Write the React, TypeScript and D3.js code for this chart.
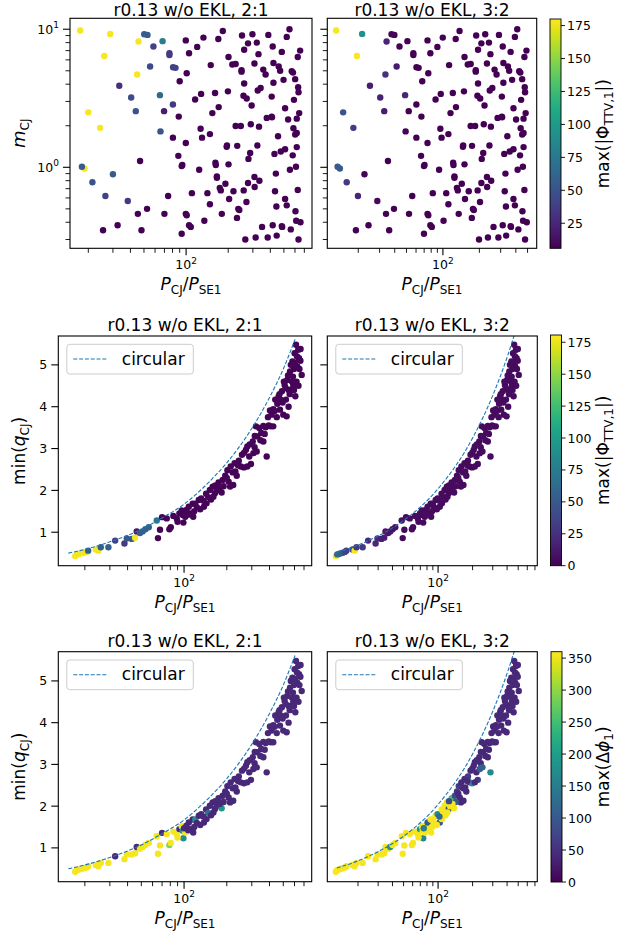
import React from "react";
import * as d3 from "d3";

const FONT = "'DejaVu Sans', sans-serif";

const resonances = ["2:1", "3:2"];
// P_CJ/P_SE1 in the 3:2 runs relative to the 2:1 runs
const periodFactor = [1, 0.75];

// top row: [P_CJ/P_SE1 (2:1), m_CJ, max|Phi_TTV,1| 2:1, max|Phi_TTV,1| 3:2]
const massSystems: number[][] = [
  [17.5, 9.8, 178, 178], [28.7, 9.25, 178, 95], [50.2, 9.2, 55, 8], [53, 9.1, 55, 8],
  [45.7, 8.15, 178, 25], [67.9, 8.2, 80, 6], [99.5, 8.3, 6, 6], [133, 8.7, 6, 6],
  [183, 9.7, 6, 6], [251, 9.0, 6, 6], [298, 9.2, 6, 6], [320, 8.0, 6, 6],
  [387, 9.1, 6, 6], [524, 8.8, 6, 6], [548, 10.0, 6, 6], [58.4, 7.5, 40, 8],
  [76, 6.7, 35, 6], [76, 6.5, 35, 6], [105, 6.7, 6, 6], [120, 7.45, 6, 6],
  [260, 7.1, 6, 6], [277, 7.9, 6, 6], [329, 6.6, 6, 6], [416, 7.5, 6, 6],
  [483, 6.85, 6, 6], [628, 6.3, 6, 6], [653, 7.0, 6, 6], [201, 6.3, 6, 6],
  [170, 8.5, 6, 6], [26, 6.4, 178, 178], [44.7, 4.7, 178, 30], [55.3, 5.37, 45, 20],
  [80.7, 5.3, 40, 6], [84, 5.25, 40, 6], [33.3, 3.9, 30, 20], [40.5, 3.2, 45, 22],
  [65, 3.33, 65, 25], [90, 4.2, 6, 6], [101, 4.8, 6, 6], [128, 3.4, 6, 6],
  [150, 5.5, 6, 6], [161, 3.45, 6, 6], [199, 3.55, 6, 6], [214, 5.55, 6, 6],
  [226, 5.6, 6, 6], [249, 5.05, 6, 6], [249, 4.93, 6, 6], [257, 3.3, 6, 6],
  [260, 4.05, 6, 6], [271, 3.15, 6, 6], [308, 5.65, 6, 6], [325, 3.6, 6, 6],
  [341, 3.75, 6, 6], [356, 5.1, 6, 6], [370, 4.7, 6, 6], [409, 3.25, 6, 6],
  [421, 5.7, 6, 6], [421, 4.1, 6, 6], [459, 5.37, 6, 6], [470, 5.0, 6, 6],
  [497, 4.3, 6, 6], [569, 4.97, 6, 6], [581, 4.85, 6, 6], [602, 4.35, 6, 6],
  [590, 3.08, 6, 6], [632, 3.8, 6, 6], [636, 3.5, 6, 6], [20, 2.5, 178, 50],
  [24.3, 1.93, 178, 35], [43.7, 2.55, 50, 20], [69.6, 2.55, 20, 6], [80.5, 2.85, 35, 6],
  [65.6, 1.82, 50, 8], [88.6, 2.33, 6, 6], [116, 3.1, 6, 6], [127, 1.9, 6, 6],
  [154, 2.47, 6, 6], [171, 2.73, 6, 6], [226, 1.99, 6, 6], [246, 1.99, 6, 6],
  [290, 2.05, 6, 6], [294, 2.8, 6, 6], [332, 1.97, 6, 6], [377, 2.28, 6, 6],
  [409, 2.33, 6, 6], [411, 2.3, 6, 6], [454, 1.68, 6, 6], [536, 2.22, 6, 6],
  [585, 1.92, 6, 6], [618, 2.25, 6, 6], [618, 1.77, 6, 6], [643, 2.47, 6, 6],
  [602, 1.73, 6, 6], [510, 2.68, 6, 6], [99.5, 1.5, 6, 6], [18.8, 0.98, 178, 55],
  [18, 1.01, 55, 55], [21.4, 0.78, 50, 35], [30, 0.89, 55, 8], [46.9, 1.11, 6, 6],
  [80.5, 1.64, 6, 6], [88, 1.21, 6, 6], [94, 1.04, 6, 6], [93, 1.02, 6, 6],
  [124, 0.96, 6, 6], [130, 1.64, 6, 6], [148, 1.74, 6, 6], [162, 1.08, 6, 6],
  [163, 1.04, 6, 6], [166, 0.86, 6, 6], [166, 0.84, 6, 6], [191, 0.76, 6, 6],
  [195, 1.41, 6, 6], [196, 1.44, 6, 6], [201, 1.05, 6, 6], [232, 1.43, 6, 6],
  [279, 1.15, 6, 6], [287, 1.27, 6, 6], [277, 0.77, 6, 6], [308, 0.85, 6, 6],
  [323, 1.44, 6, 6], [334, 0.8, 6, 6], [428, 1.25, 6, 6], [438, 0.9, 6, 6],
  [475, 1.3, 6, 6], [510, 1.35, 6, 6], [552, 0.96, 6, 6], [578, 1.22, 6, 6],
  [610, 1.01, 6, 6], [618, 1.4, 6, 6], [26.5, 0.62, 40, 25], [38.3, 0.57, 35, 10],
  [25.5, 0.35, 6, 6], [32.4, 0.38, 6, 6], [45.2, 0.46, 6, 6], [48, 0.35, 6, 6],
  [52.6, 0.5, 6, 6], [70, 0.46, 6, 6], [74.4, 0.62, 6, 6], [93, 0.33, 6, 6],
  [99.5, 0.46, 6, 6], [101, 0.45, 6, 6], [105, 0.38, 6, 6], [108, 0.37, 6, 6],
  [110, 0.65, 6, 6], [135, 0.41, 6, 6], [142, 0.65, 6, 6], [148, 0.54, 6, 6],
  [174, 0.71, 6, 6], [177, 0.68, 6, 6], [180, 0.46, 6, 6], [203, 0.59, 6, 6],
  [218, 0.67, 6, 6], [231, 0.43, 6, 6], [236, 0.5, 6, 6], [240, 0.49, 6, 6],
  [258, 0.68, 6, 6], [265, 0.3, 6, 6], [270, 0.56, 6, 6], [309, 0.72, 6, 6],
  [314, 0.31, 6, 6], [349, 0.37, 6, 6], [383, 0.31, 6, 6], [416, 0.38, 6, 6],
  [432, 0.67, 6, 6], [442, 0.52, 6, 6], [444, 0.32, 6, 6], [483, 0.375, 6, 6],
  [486, 0.37, 6, 6], [510, 0.59, 6, 6], [524, 0.53, 6, 6], [560, 0.355, 6, 6],
  [605, 0.48, 6, 6], [612, 0.41, 6, 6], [628, 0.685, 6, 6], [636, 0.3, 6, 6],
  [657, 0.4, 6, 6],
];

// rows 2-3: [P_CJ/P_SE1 (2:1), min q_CJ, TTV 2:1, TTV 3:2, dphi 2:1, dphi 3:2]
const periSystems: number[][] = [
  [17.1, 0.43, 178, 178, 355, 355], [17.6, 0.47, 178, 60, 355, 355], [18.2, 0.48, 178, 60, 355, 355],
  [18.9, 0.5, 178, 55, 355, 355], [19.7, 0.51, 178, 50, 355, 355], [20.5, 0.53, 178, 40, 355, 355],
  [21.1, 0.56, 55, 35, 355, 355], [23.9, 0.59, 178, 35, 355, 355], [24.9, 0.56, 178, 178, 355, 355],
  [25.9, 0.64, 55, 30, 355, 355], [29.3, 0.64, 55, 30, 355, 355], [32.7, 0.8, 35, 20, 40, 355],
  [38.0, 0.73, 30, 20, 355, 355], [39.5, 0.85, 50, 20, 355, 355], [42.8, 0.84, 50, 15, 355, 355],
  [45.2, 0.87, 178, 15, 355, 355], [46.4, 1.02, 10, 10, 45, 355], [48.9, 0.98, 50, 10, 355, 355],
  [51.0, 1.02, 55, 10, 355, 180], [53.4, 1.07, 55, 8, 355, 355], [56.4, 1.12, 55, 8, 355, 355],
  [64.2, 1.28, 70, 8, 355, 355], [65.5, 0.86, 2, 5, 355, 355], [67.7, 1.06, 2, 5, 355, 355],
  [70.0, 1.36, 2, 5, 40, 355], [75.5, 1.33, 2, 5, 355, 355], [78.8, 1.07, 2, 5, 290, 355],
  [80.6, 1.12, 2, 5, 355, 355], [84.0, 1.39, 2, 5, 355, 355], [88.8, 1.33, 2, 5, 355, 355],
  [92.7, 1.45, 2, 5, 40, 180], [96.3, 1.52, 2, 5, 355, 355], [98.9, 1.23, 2, 5, 180, 170],
  [97.9, 1.41, 2, 5, 195, 355], [102, 1.37, 2, 5, 355, 355], [104, 1.53, 2, 5, 40, 355],
  [108, 1.61, 2, 5, 40, 100], [111, 1.45, 2, 5, 40, 355], [115, 1.68, 2, 5, 40, 355],
  [120, 1.68, 2, 5, 180, 355], [123, 1.6, 2, 5, 40, 355], [127, 1.77, 2, 5, 40, 355],
  [132, 1.81, 2, 5, 40, 170], [138, 1.61, 2, 5, 40, 100], [143, 1.92, 2, 5, 40, 355],
  [148, 1.84, 2, 5, 130, 355], [152, 2.01, 2, 5, 40, 355], [159, 2.09, 2, 5, 40, 355],
  [165, 1.93, 2, 5, 40, 100], [170, 2.0, 2, 5, 40, 355], [175, 2.19, 2, 5, 40, 260],
  [184, 1.95, 2, 5, 190, 355], [187, 2.25, 2, 5, 40, 80], [195, 2.35, 2, 5, 40, 60],
  [202, 2.48, 2, 5, 40, 60], [206, 2.21, 2, 5, 40, 40], [213, 2.57, 2, 5, 40, 40],
  [220, 2.43, 2, 5, 40, 40], [227, 2.65, 2, 5, 40, 40], [235, 2.35, 2, 5, 40, 40],
  [243, 2.71, 2, 5, 40, 60], [251, 2.57, 2, 5, 40, 40], [256, 2.85, 2, 5, 40, 40],
  [264, 2.55, 2, 5, 40, 170], [273, 2.97, 2, 5, 40, 40], [279, 3.05, 2, 5, 40, 40],
  [288, 2.81, 2, 5, 40, 40], [296, 2.63, 2, 5, 40, 60], [305, 3.17, 2, 5, 40, 40],
  [314, 3.03, 2, 5, 40, 40], [321, 3.53, 2, 5, 40, 40], [328, 3.29, 2, 5, 40, 40],
  [339, 3.49, 2, 5, 40, 40], [350, 3.37, 2, 5, 40, 40], [362, 3.54, 2, 5, 40, 40],
  [376, 3.51, 2, 5, 40, 40], [382, 2.81, 2, 5, 40, 170], [390, 3.75, 2, 5, 40, 40],
  [403, 3.91, 2, 5, 40, 40], [414, 3.81, 2, 5, 40, 40], [425, 3.94, 2, 5, 40, 40],
  [439, 4.17, 2, 5, 40, 40], [454, 4.07, 2, 5, 40, 40], [464, 4.25, 2, 5, 40, 40],
  [474, 3.93, 2, 5, 40, 40], [489, 4.37, 2, 5, 40, 40], [500, 3.81, 2, 5, 40, 40],
  [511, 4.52, 2, 5, 40, 40], [522, 4.17, 2, 5, 40, 40], [533, 4.64, 2, 5, 40, 40],
  [545, 4.0, 2, 5, 40, 40], [558, 4.84, 2, 5, 40, 40], [570, 4.41, 2, 5, 40, 40],
  [580, 5.08, 2, 5, 40, 40], [588, 4.52, 2, 5, 40, 40], [601, 5.28, 2, 5, 40, 40],
  [608, 4.25, 2, 5, 40, 40], [615, 5.48, 2, 5, 40, 40], [628, 4.96, 2, 5, 40, 40],
  [637, 5.36, 2, 5, 40, 40], [646, 5.16, 2, 5, 40, 40], [662, 5.38, 2, 5, 40, 40],
  [674, 4.76, 2, 5, 40, 40], [161, 1.85, 2, 5, 40, 355], [222, 2.13, 2, 5, 40, 40],
  [308, 2.89, 2, 5, 40, 100], [325, 2.93, 2, 5, 40, 110], [425, 3.53, 2, 5, 40, 40],
  [528, 3.77, 2, 5, 40, 40], [585, 4.72, 2, 5, 40, 40], [620, 4.6, 2, 5, 40, 40],
  [545, 4.4, 2, 5, 40, 40], [479, 4.17, 2, 5, 40, 40], [408, 3.53, 2, 5, 40, 40],
  [362, 3.17, 2, 5, 40, 40], [279, 2.57, 2, 5, 40, 40], [211, 2.09, 2, 5, 40, 40],
  [144, 1.69, 2, 5, 40, 355], [116, 1.37, 2, 5, 40, 355],
  [470, 4.3, 2, 5, 40, 40], [495, 4.1, 2, 5, 40, 40], [505, 4.6, 2, 5, 40, 40],
  [520, 4.45, 2, 5, 40, 40], [540, 4.75, 2, 5, 40, 40], [555, 4.3, 2, 5, 40, 40],
  [565, 5.0, 2, 5, 40, 40], [575, 4.6, 2, 5, 40, 40], [595, 4.9, 2, 5, 40, 40],
  [605, 5.05, 2, 5, 40, 40], [625, 5.2, 2, 5, 40, 40], [640, 4.5, 2, 5, 40, 40],
  [650, 4.9, 2, 5, 40, 40], [660, 5.1, 2, 5, 40, 40], [595, 4.4, 2, 5, 40, 40],
  [450, 3.75, 2, 5, 40, 40], [435, 3.9, 2, 5, 40, 40], [395, 3.55, 2, 5, 40, 40],
  [370, 3.35, 2, 5, 40, 40], [345, 3.2, 2, 5, 40, 40], [315, 3.3, 2, 5, 40, 40],
  [290, 3.1, 2, 5, 40, 40], [265, 2.9, 2, 5, 40, 40], [240, 2.6, 2, 5, 40, 40],
  [230, 2.45, 2, 5, 40, 40], [200, 2.3, 2, 5, 40, 40], [190, 2.1, 2, 5, 40, 100],
  [178, 2.05, 2, 5, 40, 355], [166, 2.12, 2, 5, 40, 80], [155, 1.78, 2, 5, 40, 355],
  [137, 1.75, 2, 5, 40, 120], [130, 1.55, 2, 5, 40, 355], [118, 1.5, 2, 5, 40, 355],
  [107, 1.42, 2, 5, 40, 355], [100, 1.47, 2, 5, 40, 150], [90, 1.25, 2, 5, 355, 355],
];

// "circular" reference curves
const circP21 = [15.3, 20, 30, 50, 70, 100, 150, 200, 300, 400, 500, 605];
const circQ21 = [0.5, 0.59, 0.77, 1.07, 1.34, 1.67, 2.2, 2.66, 3.48, 4.22, 4.9, 5.61];
const circP32 = [13.1, 20, 30, 50, 100, 200, 300, 400, 500, 607];
const circQ32 = [0.52, 0.69, 0.91, 1.28, 2.04, 3.25, 4.27, 5.18, 6.02, 6.83];

const ttvTicksTop = [25, 50, 75, 100, 125, 150, 175];
const ttvTicks = [0, 25, 50, 75, 100, 125, 150, 175];
const dphiTicks = [0, 50, 100, 150, 200, 250, 300, 350];
const qTicks = [1, 2, 3, 4, 5];

function logTicks([a, b]: number[]) {
  const major: number[] = [];
  const minor: number[] = [];
  for (let e = Math.floor(Math.log10(a)); e <= Math.ceil(Math.log10(b)); e++) {
    for (let k = 1; k < 10; k++) {
      const v = k * Math.pow(10, e);
      if (v >= a && v <= b) (k === 1 ? major : minor).push(v);
    }
  }
  return { major, minor };
}

function Pow10({ x, y, e, anchor }: any) {
  return (
    <text x={x} y={y} textAnchor={anchor} fontSize={12.5} fontFamily={FONT}>
      10<tspan fontSize={9} dy={-5.5}>{e}</tspan>
    </text>
  );
}

function XLabel({ x, y }: any) {
  return (
    <text x={x} y={y} textAnchor="middle" fontSize={17} fontFamily={FONT}>
      <tspan fontStyle="italic">P</tspan>
      <tspan fontSize={12} dy={4}>CJ</tspan>
      <tspan dy={-4}>/</tspan>
      <tspan fontStyle="italic">P</tspan>
      <tspan fontSize={12} dy={4}>SE1</tspan>
    </text>
  );
}

function Panel(p: any) {
  const { id, x0, x1, y0, y1, xDomain, yDomain, yLog, pts, color, showY, yLabel, curve, title, titleY } = p;
  const x = d3.scaleLog().domain(xDomain).range([x0, x1]);
  const y = yLog
    ? d3.scaleLog().domain(yDomain).range([y1, y0])
    : d3.scaleLinear().domain(yDomain).range([y1, y0]);
  const xt = logTicks(xDomain);
  const yt = yLog ? logTicks(yDomain) : { major: qTicks, minor: [] as number[] };
  const line = curve
    ? d3
        .line<number>()
        .x((_, i) => x(curve.p[i]))
        .y((_, i) => y(curve.q[i]))
        .curve(d3.curveMonotoneX)
    : null;
  return (
    <g>
      <defs>
        <clipPath id={id}>
          <rect x={x0} y={y0} width={x1 - x0} height={y1 - y0} />
        </clipPath>
      </defs>
      <g clipPath={`url(#${id})`}>
        {pts.map((d: number[], i: number) => (
          <circle key={i} cx={x(d[0])} cy={y(d[1])} r={3.2} fill={color(d[2])} />
        ))}
        {line && (
          <path d={line(curve.p) || ""} fill="none" stroke="#1f77b4" strokeWidth={1.1} strokeDasharray="4,1.8" />
        )}
      </g>
      <rect x={x0} y={y0} width={x1 - x0} height={y1 - y0} fill="none" stroke="#000" strokeWidth={1.1} />
      {xt.major.map((v) => (
        <g key={"xM" + v}>
          <line x1={x(v)} x2={x(v)} y1={y1} y2={y1 + 7} stroke="#000" strokeWidth={1.1} />
          <Pow10 x={x(v)} y={y1 + 21} e={Math.round(Math.log10(v))} anchor="middle" />
        </g>
      ))}
      {xt.minor.map((v) => (
        <line key={"xm" + v} x1={x(v)} x2={x(v)} y1={y1} y2={y1 + 4.5} stroke="#000" strokeWidth={0.9} />
      ))}
      {yt.major.map((v) => (
        <g key={"yM" + v}>
          <line x1={x0 - 7} x2={x0} y1={y(v)} y2={y(v)} stroke="#000" strokeWidth={1.1} />
          {showY &&
            (yLog ? (
              <Pow10 x={x0 - 11} y={y(v) + 4.5} e={Math.round(Math.log10(v))} anchor="end" />
            ) : (
              <text x={x0 - 11} y={y(v) + 4.5} textAnchor="end" fontSize={12.5} fontFamily={FONT}>
                {v}
              </text>
            ))}
        </g>
      ))}
      {yt.minor.map((v) => (
        <line key={"ym" + v} x1={x0 - 4.5} x2={x0} y1={y(v)} y2={y(v)} stroke="#000" strokeWidth={0.9} />
      ))}
      <text x={(x0 + x1) / 2} y={titleY} textAnchor="middle" fontSize={17} fontFamily={FONT}>
        {title}
      </text>
      <XLabel x={(x0 + x1) / 2} y={y1 + 42} />
      {showY && (
        <text
          transform={`translate(25,${(y0 + y1) / 2}) rotate(-90)`}
          textAnchor="middle"
          fontSize={17}
          fontFamily={FONT}
        >
          {yLabel === "m" ? (
            <>
              <tspan fontStyle="italic" fontSize={18}>m</tspan>
              <tspan fontSize={12} dy={4}>CJ</tspan>
            </>
          ) : (
            <>
              <tspan>min(</tspan>
              <tspan fontStyle="italic">q</tspan>
              <tspan fontSize={12} dy={4}>CJ</tspan>
              <tspan dy={-4}>)</tspan>
            </>
          )}
        </text>
      )}
      {curve && (
        <g>
          <rect x={x0 + 8.5} y={y0 + 8.3} width={126.5} height={29.7} rx={3} fill="#fff" fillOpacity={0.8} stroke="#cccccc" strokeWidth={1} />
          <line x1={x0 + 15} x2={x0 + 49} y1={y0 + 23} y2={y0 + 23} stroke="#1f77b4" strokeWidth={1.1} strokeDasharray="4,1.8" />
          <text x={x0 + 63.5} y={y0 + 28.5} fontSize={17} fontFamily={FONT}>
            circular
          </text>
        </g>
      )}
    </g>
  );
}

function Colorbar({ id, x0, y0, y1, domain, ticks, label }: any) {
  const s = d3.scaleLinear().domain(domain).range([y1, y0]);
  const stops = d3.range(0, 1.0001, 0.05);
  return (
    <g>
      <defs>
        <linearGradient id={id} x1="0" y1="1" x2="0" y2="0">
          {stops.map((t) => (
            <stop key={t} offset={t} stopColor={d3.interpolateViridis(t)} />
          ))}
        </linearGradient>
      </defs>
      <rect x={x0} y={y0} width={11} height={y1 - y0} fill={`url(#${id})`} stroke="#000" strokeWidth={0.9} />
      {ticks.map((v: number) => (
        <g key={v}>
          <line x1={x0 + 11} x2={x0 + 15} y1={s(v)} y2={s(v)} stroke="#000" strokeWidth={0.9} />
          <text x={x0 + 17} y={s(v) + 4.5} fontSize={12.5} fontFamily={FONT}>
            {v}
          </text>
        </g>
      ))}
      <text transform={`translate(609,${(y0 + y1) / 2}) rotate(-90)`} textAnchor="middle" fontSize={17} fontFamily={FONT}>
        {label === "ttv" ? (
          <>
            <tspan>max(|Φ</tspan>
            <tspan fontSize={12} dy={4}>TTV,1</tspan>
            <tspan dy={-4}>|)</tspan>
          </>
        ) : (
          <>
            <tspan>max(Δ</tspan>
            <tspan fontStyle="italic">ϕ</tspan>
            <tspan fontSize={12} dy={4}>1</tspan>
            <tspan dy={-4}>)</tspan>
          </>
        )}
      </text>
    </g>
  );
}

export default function App() {
  const cTop = d3.scaleSequential(d3.interpolateViridis).domain([6, 180]);
  const cTtv = d3.scaleSequential(d3.interpolateViridis).domain([0, 180.7]);
  const cPhi = d3.scaleSequential(d3.interpolateViridis).domain([0, 360]);

  const massPts = [0, 1].map((c) => massSystems.map((d) => [d[0] * periodFactor[c], d[1], d[2 + c]]));
  const ttvPts = [0, 1].map((c) => periSystems.map((d) => [d[0] * periodFactor[c], d[1], d[2 + c]]));
  const phiPts = [0, 1].map((c) => periSystems.map((d) => [d[0] * periodFactor[c], d[1], d[4 + c]]));
  const curves = [
    { p: circP21, q: circQ21 },
    { p: circP32, q: circQ32 },
  ];

  const colX = [
    [70, 312, 327.3, 536.7],
    [58.3, 311.7, 327.3, 537.3],
  ];
  const xTop = [[14.8, 794], [11.1, 595]];
  const xLow = [[13.0, 793], [10.8, 734]];
  const rows = [
    { y0: 18.3, y1: 248.3, t: 16 },
    { y0: 336, y1: 565.7, t: 331 },
    { y0: 651.7, y1: 881.7, t: 647.3 },
  ];

  return (
    <svg width={634} height={933} style={{ position: "absolute", left: 0, top: 0, background: "#fff" }}>
      {[0, 1].map((c) => (
        <Panel
          key={"a" + c}
          id={"clipA" + c}
          x0={colX[0][c * 2]}
          x1={colX[0][c * 2 + 1]}
          y0={rows[0].y0}
          y1={rows[0].y1}
          titleY={rows[0].t}
          xDomain={xTop[c]}
          yDomain={[0.259, 12.0]}
          yLog
          pts={massPts[c]}
          color={cTop}
          showY={c === 0}
          yLabel="m"
          title={`r0.13 w/o EKL, ${resonances[c]}`}
        />
      ))}
      {[0, 1].map((c) => (
        <Panel
          key={"b" + c}
          id={"clipB" + c}
          x0={colX[1][c * 2]}
          x1={colX[1][c * 2 + 1]}
          y0={rows[1].y0}
          y1={rows[1].y1}
          titleY={rows[1].t}
          xDomain={xLow[c]}
          yDomain={[0.2, 5.69]}
          pts={ttvPts[c]}
          color={cTtv}
          showY={c === 0}
          yLabel="q"
          curve={curves[c]}
          title={`r0.13 w/o EKL, ${resonances[c]}`}
        />
      ))}
      {[0, 1].map((c) => (
        <Panel
          key={"c" + c}
          id={"clipC" + c}
          x0={colX[1][c * 2]}
          x1={colX[1][c * 2 + 1]}
          y0={rows[2].y0}
          y1={rows[2].y1}
          titleY={rows[2].t}
          xDomain={xLow[c]}
          yDomain={[0.19, 5.7]}
          pts={phiPts[c]}
          color={cPhi}
          showY={c === 0}
          yLabel="q"
          curve={curves[c]}
          title={`r0.13 w/o EKL, ${resonances[c]}`}
        />
      ))}
      <Colorbar id="cb0" x0={550} y0={19} y1={248.3} domain={[6, 180]} ticks={ttvTicksTop} label="ttv" />
      <Colorbar id="cb1" x0={550.5} y0={335} y1={565.7} domain={[0, 180.7]} ticks={ttvTicks} label="ttv" />
      <Colorbar id="cb2" x0={551} y0={651.7} y1={882} domain={[0, 360]} ticks={dphiTicks} label="phi" />
    </svg>
  );
}
